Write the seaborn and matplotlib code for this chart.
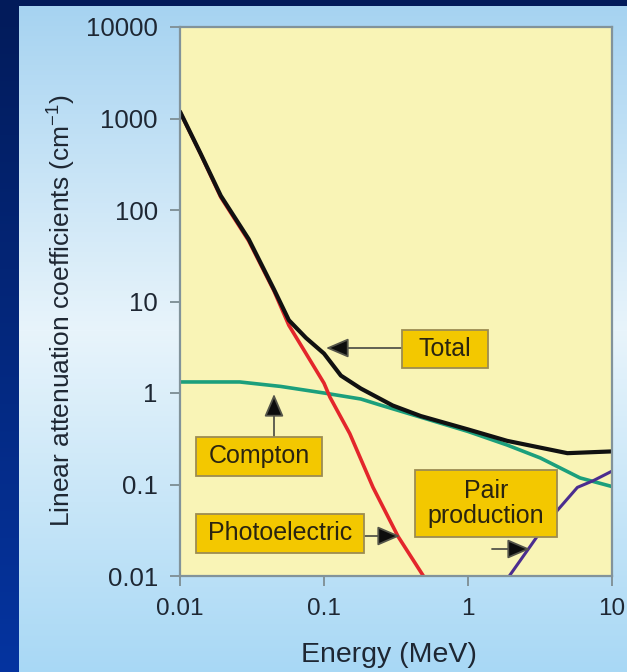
import numpy as np
import pandas as pd
import matplotlib
matplotlib.use("Agg")
import matplotlib.pyplot as plt
from matplotlib.patches import Rectangle
from matplotlib.ticker import NullLocator
import seaborn as sns

# ---------------- data ----------------
total_energy = [0.01, 0.0139, 0.0192, 0.030, 0.045, 0.057, 0.075, 0.1, 0.131, 0.18, 0.30, 0.47, 1.0, 1.87, 4.9, 10]
total_mu = [1190, 414, 143, 48, 13.5, 6.25, 4.0, 2.7, 1.55, 1.12, 0.73, 0.56, 0.40, 0.30, 0.22, 0.23]

photo_energy = [0.01, 0.0139, 0.0192, 0.030, 0.045, 0.057, 0.1, 0.11, 0.151, 0.219, 0.327, 0.49]
photo_mu = [1180, 410, 138, 46, 13, 5.5, 1.28, 0.9, 0.36, 0.093, 0.027, 0.01]

compton_energy = [0.01, 0.026, 0.05, 0.1, 0.18, 0.245, 1.0, 1.87, 3.18, 6.0, 10]
compton_mu = [1.32, 1.32, 1.18, 1.0, 0.86, 0.74, 0.38, 0.27, 0.195, 0.118, 0.095]

pair_energy = [1.9, 2.7, 3.3, 4.17, 5.75, 7.4, 10]
pair_mu = [0.0096, 0.021, 0.033, 0.052, 0.093, 0.11, 0.14]

x_ticks = [0.01, 0.1, 1, 10]
x_ticklabels = ["0.01", "0.1", "1", "10"]
y_ticks = [0.01, 0.1, 1, 10, 100, 1000, 10000]
y_ticklabels = ["0.01", "0.1", "1", "10", "100", "1000", "10000"]

# ---------------- style ----------------
sns.set_style("ticks")
plt.rcParams["font.family"] = ["Liberation Sans", "DejaVu Sans"]
plt.rcParams["mathtext.fontset"] = "custom"
plt.rcParams["mathtext.rm"] = "Liberation Sans"
plt.rcParams["mathtext.it"] = "Liberation Sans"

W, H = 627, 672
fig = plt.figure(figsize=(W / 100, H / 100), dpi=100)

# background: dark blue frame + light blue vertical gradient panel
img = np.zeros((H, W, 3))
ys = np.arange(H)
stops_y = [6, 330, 672]
stops_c = np.array([[166, 211, 241], [232, 244, 251], [168, 216, 245]]) / 255.0
for k in range(3):
    img[:, :, k] = np.interp(ys, stops_y, stops_c[:, k])[:, None]
img[:6, :, :] = np.array([2, 27, 90]) / 255.0
left_top = np.array([2, 27, 90]) / 255.0
left_bot = np.array([5, 52, 160]) / 255.0
for k in range(3):
    img[:, :19, k] = np.interp(ys, [0, H], [left_top[k], left_bot[k]])[:, None]
bg = fig.add_axes([0, 0, 1, 1], zorder=0)
bg.imshow(img, aspect="auto", extent=[0, W, H, 0], interpolation="bilinear")
bg.axis("off")

# main axes
L, R, T, B = 180, 612, 27, 576
ax = fig.add_axes([L / W, 1 - B / H, (R - L) / W, (B - T) / H], zorder=1)
ax.set_facecolor("#f9f4b6")

series = [
    ("Compton", compton_energy, compton_mu, "#1c9f7c", 2.6),
    ("Photoelectric", photo_energy, photo_mu, "#e3262b", 2.6),
    ("Pair production", pair_energy, pair_mu, "#4b2d8f", 2.2),
    ("Total", total_energy, total_mu, "#111111", 3.0),
]
for name, e, mu, col, lw in series:
    df = pd.DataFrame({"energy": e, "mu": mu})
    sns.lineplot(data=df, x="energy", y="mu", ax=ax, color=col, lw=lw,
                 sort=False, estimator=None, legend=False)

ax.set_xscale("log")
ax.set_yscale("log")
ax.set_xlim(0.01, 10)
ax.set_ylim(0.01, 10000)
ax.set_xticks(x_ticks)
ax.set_xticklabels(x_ticklabels)
ax.set_yticks(y_ticks)
ax.set_yticklabels(y_ticklabels)
ax.xaxis.set_minor_locator(NullLocator())
ax.yaxis.set_minor_locator(NullLocator())

spine_col = "#82939a"
for s in ax.spines.values():
    s.set_color(spine_col)
    s.set_linewidth(1.6)
ax.tick_params(axis="both", direction="out", length=7, width=1.4, color=spine_col,
               labelcolor="#1e2733")
ax.tick_params(axis="y", pad=9, labelsize=18.5)
ax.tick_params(axis="x", pad=9, labelsize=17.5)

ax.set_xlabel("Energy (MeV)", fontsize=20.5, color="#1e2733")
ax.xaxis.label.set_va("center")
ax.xaxis.set_label_coords((389 - L) / (R - L), (B - 655) / (B - T))
ax.set_ylabel(r"Linear attenuation coefficients (cm$^{\mathregular{-1}}$)", fontsize=19,
              color="#1e2733")
ax.yaxis.label.set_va("center")
ax.yaxis.set_label_coords((62 - L) / (R - L), (B - 311) / (B - T))


def px2ax(px, py):
    return ((px - L) / (R - L), (B - py) / (B - T))


box_fc = "#f3c800"
box_ec = "#9c8c52"
text_col = "#2a2410"
boxes = [
    ("Total", 402, 330, 488, 368),
    ("Compton", 196, 437, 322, 476),
    ("Photoelectric", 196, 514, 364, 553),
    ("Pair\nproduction", 415, 470, 557, 537),
]
for label, x0, y0, x1, y1 in boxes:
    ax0, ay1 = px2ax(x0, y0)
    ax1, ay0 = px2ax(x1, y1)
    ax.add_patch(Rectangle((ax0, ay0), ax1 - ax0, ay1 - ay0, transform=ax.transAxes,
                           facecolor=box_fc, edgecolor=box_ec, lw=1.3, zorder=5))
    ax.text((ax0 + ax1) / 2, (ay0 + ay1) / 2, label, transform=ax.transAxes,
            ha="center", va="center", fontsize=18, color=text_col, zorder=6,
            linespacing=1.05)

arrows = [
    ((402, 348), (326, 348)),
    ((274, 437), (274, 394)),
    ((364, 536), (400, 536)),
    ((492, 549), (530, 549)),
]
for (sx, sy), (tx, ty) in arrows:
    ax.annotate("", xy=px2ax(tx, ty), xytext=px2ax(sx, sy),
                xycoords="axes fraction", textcoords="axes fraction",
                arrowprops=dict(arrowstyle="-|>,head_length=0.7,head_width=0.3",
                                mutation_scale=20, fc="#0d0d0d", ec="#55554a",
                                lw=1.3, shrinkA=0, shrinkB=0),
                zorder=4)

fig.savefig("out.png", dpi=100)
